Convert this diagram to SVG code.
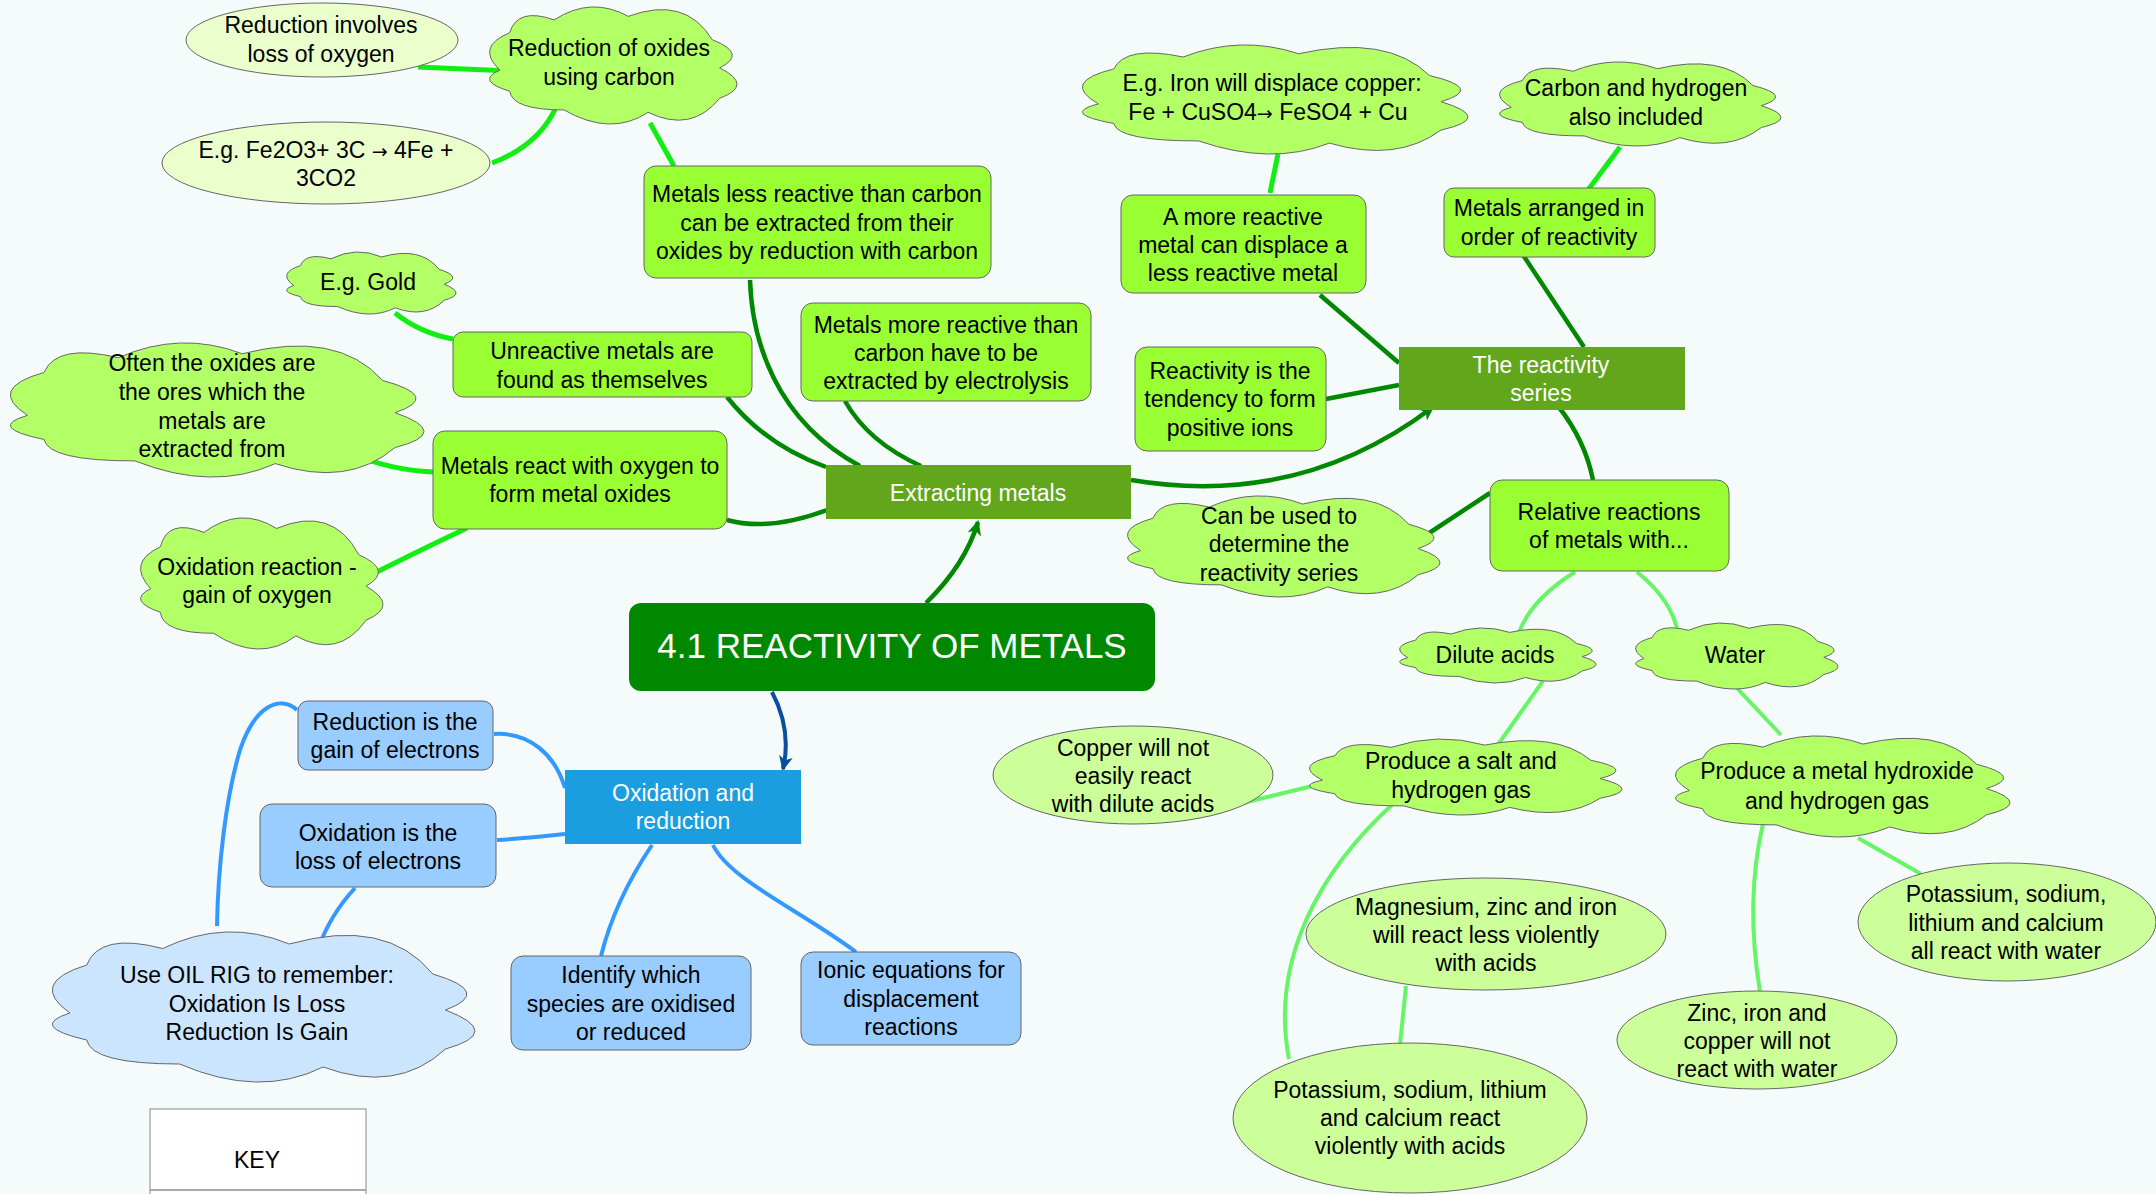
<svg xmlns="http://www.w3.org/2000/svg" xmlns:xlink="http://www.w3.org/1999/xlink" width="2156" height="1194" viewBox="0 0 2156 1194">
<style>
text{font-family:"Liberation Sans",Arial,sans-serif;font-size:23px;text-anchor:middle;fill:#000}
.ar{font-family:"DejaVu Sans",sans-serif;font-size:19px}
.w{fill:#fff}
.big{font-size:35px}
.box{fill:#99ff33;stroke:#666;stroke-width:1}
.bbox{fill:#99ccff;stroke:#666;stroke-width:1}
.ell{fill:#ccff99;stroke:#666;stroke-width:1}
.ell2{fill:#eaffcc;stroke:#666;stroke-width:1}
.cl{fill:#b3ff66}
.cl2{fill:#cce5ff}
.dk{fill:#62a61c}
.c{fill:none;stroke-linecap:butt}
.g1{stroke:#11ee11;stroke-width:5}
.g2{stroke:#008800;stroke-width:4.5}
.g3{stroke:#66f566;stroke-width:4}
.b1{stroke:#3399ff;stroke-width:4}
.b2{stroke:#0a4f9e;stroke-width:4}
</style>
<defs>
<symbol id="cloud" viewBox="0 0 100 100" preserveAspectRatio="none" overflow="visible">
<path d="M4,54 Q-6,34 8,22 Q11,0 26,11 Q41,-9.5 56,8 Q79,-10 90,28 Q104.5,40 93,52 Q107,67 93,78 Q81.5,108 64,90 Q49,111 30,88 Q9,88 8,72 Q-6,63 4,54 Z" stroke="#666" stroke-width="1" vector-effect="non-scaling-stroke"/>
</symbol>
<marker id="ag" markerUnits="userSpaceOnUse" markerWidth="18" markerHeight="16" refX="13" refY="7" orient="auto">
<path d="M0,0 L15,7 L0,14 L4,7 Z" fill="#008800"/>
</marker>
<marker id="ab" markerUnits="userSpaceOnUse" markerWidth="18" markerHeight="16" refX="13" refY="7" orient="auto">
<path d="M0,0 L15,7 L0,14 L4,7 Z" fill="#0a4f9e"/>
</marker>
</defs>
<rect width="2156" height="1194" fill="#f5fafa"/>

<g id="connectors">
<path class="c g1" d="M418,67 L511,71"/>
<path class="c g1" d="M557,105 Q540,145 492,163"/>
<path class="c g1" d="M650,123 L674,166"/>
<path class="c g1" d="M395,313 Q420,333 453,339"/>
<path class="c g1" d="M349,453 Q390,470 433,472"/>
<path class="c g1" d="M467,528 Q410,555 361,580"/>
<path class="c g2" d="M727,520 Q770,532 830,509"/>
<path class="c g2" d="M727,397 Q765,445 826,467"/>
<path class="c g2" d="M750,280 C752,340 775,420 860,466"/>
<path class="c g2" d="M845,401 Q868,442 921,466"/>
<path class="c g2" d="M1131,480 C1250,500 1350,470 1433,407" marker-end="url(#ag)"/>
<path class="c g2" d="M926,603 Q965,565 978,522" marker-end="url(#ag)"/>
<path class="c g2" d="M1320,295 L1399,363"/>
<path class="c g2" d="M1523,255 L1584,347"/>
<path class="c g2" stroke-width="6" d="M1326,399 L1399,385"/>
<path class="c g2" d="M1558,406 Q1585,440 1593,480"/>
<path class="c g2" d="M1490,493 L1414,543"/>
<path class="c g1" d="M1278,154 L1270,193"/>
<path class="c g1" d="M1620,147 L1588,190"/>
<path class="c g3" d="M1575,572 Q1530,600 1518,635"/>
<path class="c g3" d="M1637,572 Q1672,600 1678,633"/>
<path class="c g3" d="M1543,681 L1497,746"/>
<path class="c g3" d="M1735,686 L1781,735"/>
<path class="c g3" stroke-width="6" d="M1243,803 L1341,779"/>
<path class="c g3" d="M1394,803 C1320,870 1270,960 1289,1059"/>
<path class="c g3" d="M1406,986 L1400,1045"/>
<path class="c g3" d="M1763,824 Q1745,900 1760,992"/>
<path class="c g3" stroke-width="5" d="M1858,838 L1921,874"/>
<path class="c b1" d="M494,734 C530,732 555,755 565,788"/>
<path class="c b1" d="M497,840 Q530,838 565,834"/>
<path class="c b1" d="M297,710 C280,695 255,705 240,750 C225,800 218,870 217,926"/>
<path class="c b1" d="M355,888 Q330,915 318,949"/>
<path class="c b1" d="M652,845 Q615,900 601,956"/>
<path class="c b1" d="M713,845 C730,880 800,910 856,952"/>
<path class="c b2" d="M772,692 Q792,730 783,769" marker-end="url(#ab)"/>
</g>

<g id="n-central"><rect x="629" y="603" width="526" height="88" rx="12" fill="#008800"/><text class="w big" x="892" y="658">4.1 REACTIVITY OF METALS</text></g>
<g id="n-extract"><rect class="dk" x="826" y="465" width="305" height="54"/><text class="w" x="978" y="501">Extracting metals</text></g>
<g id="n-series"><rect class="dk" x="1399" y="347" width="286" height="63"/><text class="w" x="1541" y="373">The reactivity</text><text class="w" x="1541" y="401">series</text></g>
<g id="n-or"><rect x="565" y="770" width="236" height="74" fill="#1a9ee0"/><text class="w" x="683" y="801">Oxidation and</text><text class="w" x="683" y="829">reduction</text></g>

<g id="n-redinv"><ellipse class="ell2" cx="322" cy="40" rx="136" ry="37"/><text x="321" y="33">Reduction involves</text><text x="321" y="62">loss of oxygen</text></g>
<g id="n-redox"><use href="#cloud" class="cl" x="490" y="7" width="247" height="117"/><text x="609" y="56">Reduction of oxides</text><text x="609" y="85">using carbon</text></g>
<g id="n-fe2o3"><ellipse class="ell2" cx="326" cy="163" rx="164" ry="41"/><text x="326" y="158">E.g. Fe2O3+ 3C <tspan class="ar">→</tspan> 4Fe +</text><text x="326" y="186">3CO2</text></g>
<g id="n-less"><rect class="box" x="644" y="166" width="347" height="112" rx="12"/><text x="817" y="202">Metals less reactive than carbon</text><text x="817" y="231">can be extracted from their</text><text x="817" y="259">oxides by reduction with carbon</text></g>
<g id="n-gold"><use href="#cloud" class="cl" x="287" y="252" width="169" height="62"/><text x="368" y="290">E.g. Gold</text></g>
<g id="n-unreactive"><rect class="box" x="453" y="332" width="299" height="65" rx="10"/><text x="602" y="359">Unreactive metals are</text><text x="602" y="388">found as themselves</text></g>
<g id="n-often"><use href="#cloud" class="cl" x="11" y="343" width="413" height="134"/><text x="212" y="371">Often the oxides are</text><text x="212" y="400">the ores which the</text><text x="212" y="429">metals are</text><text x="212" y="457">extracted from</text></g>
<g id="n-react"><rect class="box" x="433" y="431" width="294" height="98" rx="12"/><text x="580" y="474">Metals react with oxygen to</text><text x="580" y="502">form metal oxides</text></g>
<g id="n-oxreact"><use href="#cloud" class="cl" x="141" y="518" width="242" height="131"/><text x="257" y="575">Oxidation reaction -</text><text x="257" y="603">gain of oxygen</text></g>
<g id="n-more"><rect class="box" x="801" y="303" width="290" height="98" rx="12"/><text x="946" y="333">Metals more reactive than</text><text x="946" y="361">carbon have to be</text><text x="946" y="389">extracted by electrolysis</text></g>
<g id="n-tendency"><rect class="box" x="1135" y="347" width="191" height="104" rx="12"/><text x="1230" y="379">Reactivity is the</text><text x="1230" y="407">tendency to form</text><text x="1230" y="436">positive ions</text></g>
<g id="n-iron"><use href="#cloud" class="cl" x="1083" y="45" width="385" height="109"/><text x="1272" y="91">E.g. Iron will displace copper:</text><text x="1268" y="120">Fe + CuSO4<tspan class="ar">→</tspan> FeSO4 + Cu</text></g>
<g id="n-amore"><rect class="box" x="1121" y="195" width="245" height="98" rx="12"/><text x="1243" y="225">A more reactive</text><text x="1243" y="253">metal can displace a</text><text x="1243" y="281">less reactive metal</text></g>
<g id="n-carbon"><use href="#cloud" class="cl" x="1500" y="62" width="281" height="84"/><text x="1636" y="96">Carbon and hydrogen</text><text x="1636" y="125">also included</text></g>
<g id="n-arranged"><rect class="box" x="1444" y="188" width="211" height="69" rx="10"/><text x="1549" y="216">Metals arranged in</text><text x="1549" y="245">order of reactivity</text></g>
<g id="n-relative"><rect class="box" x="1490" y="480" width="239" height="91" rx="12"/><text x="1609" y="520">Relative reactions</text><text x="1609" y="548">of metals with...</text></g>
<g id="n-canbe"><use href="#cloud" class="cl" x="1128" y="496" width="312" height="101"/><text x="1279" y="524">Can be used to</text><text x="1279" y="552">determine the</text><text x="1279" y="581">reactivity series</text></g>
<g id="n-dilute"><use href="#cloud" class="cl" x="1400" y="628" width="196" height="55"/><text x="1495" y="663">Dilute acids</text></g>
<g id="n-water"><use href="#cloud" class="cl" x="1636" y="623" width="202" height="66"/><text x="1735" y="663">Water</text></g>
<g id="n-salt"><use href="#cloud" class="cl" x="1310" y="739" width="312" height="76"/><text x="1461" y="769">Produce a salt and</text><text x="1461" y="798">hydrogen gas</text></g>
<g id="n-hydroxide"><use href="#cloud" class="cl" x="1676" y="736" width="334" height="101"/><text x="1837" y="779">Produce a metal hydroxide</text><text x="1837" y="809">and hydrogen gas</text></g>
<g id="n-copper"><ellipse class="ell" cx="1133" cy="775" rx="140" ry="49"/><text x="1133" y="756">Copper will not</text><text x="1133" y="784">easily react</text><text x="1133" y="812">with dilute acids</text></g>
<g id="n-mg"><ellipse class="ell" cx="1486" cy="934" rx="180" ry="56"/><text x="1486" y="915">Magnesium, zinc and iron</text><text x="1486" y="943">will react less violently</text><text x="1486" y="971">with acids</text></g>
<g id="n-kacid"><ellipse class="ell" cx="1410" cy="1118" rx="177" ry="75"/><text x="1410" y="1098">Potassium, sodium, lithium</text><text x="1410" y="1126">and calcium react</text><text x="1410" y="1154">violently with acids</text></g>
<g id="n-zinc"><ellipse class="ell" cx="1757" cy="1040" rx="140" ry="49"/><text x="1757" y="1021">Zinc, iron and</text><text x="1757" y="1049">copper will not</text><text x="1757" y="1077">react with water</text></g>
<g id="n-kwater"><ellipse class="ell" cx="2007" cy="922" rx="149" ry="59"/><text x="2006" y="902">Potassium, sodium,</text><text x="2006" y="931">lithium and calcium</text><text x="2006" y="959">all react with water</text></g>
<g id="n-redgain"><rect class="bbox" x="298" y="701" width="195" height="69" rx="10"/><text x="395" y="730">Reduction is the</text><text x="395" y="758">gain of electrons</text></g>
<g id="n-oxloss"><rect class="bbox" x="260" y="804" width="236" height="83" rx="12"/><text x="378" y="841">Oxidation is the</text><text x="378" y="869">loss of electrons</text></g>
<g id="n-oilrig"><use href="#cloud" class="cl2" x="53" y="932" width="422" height="150"/><text x="257" y="983">Use OIL RIG to remember:</text><text x="257" y="1012">Oxidation Is Loss</text><text x="257" y="1040">Reduction Is Gain</text></g>
<g id="n-identify"><rect class="bbox" x="511" y="956" width="240" height="94" rx="12"/><text x="631" y="983">Identify which</text><text x="631" y="1012">species are oxidised</text><text x="631" y="1040">or reduced</text></g>
<g id="n-ionic"><rect class="bbox" x="801" y="952" width="220" height="93" rx="12"/><text x="911" y="978">Ionic equations for</text><text x="911" y="1007">displacement</text><text x="911" y="1035">reactions</text></g>
<g id="n-key"><rect x="150" y="1109" width="216" height="95" fill="#fff" stroke="#888" stroke-width="1"/><line x1="150" y1="1190" x2="366" y2="1190" stroke="#aaa" stroke-width="2"/><text x="257" y="1168">KEY</text></g>
</svg>
